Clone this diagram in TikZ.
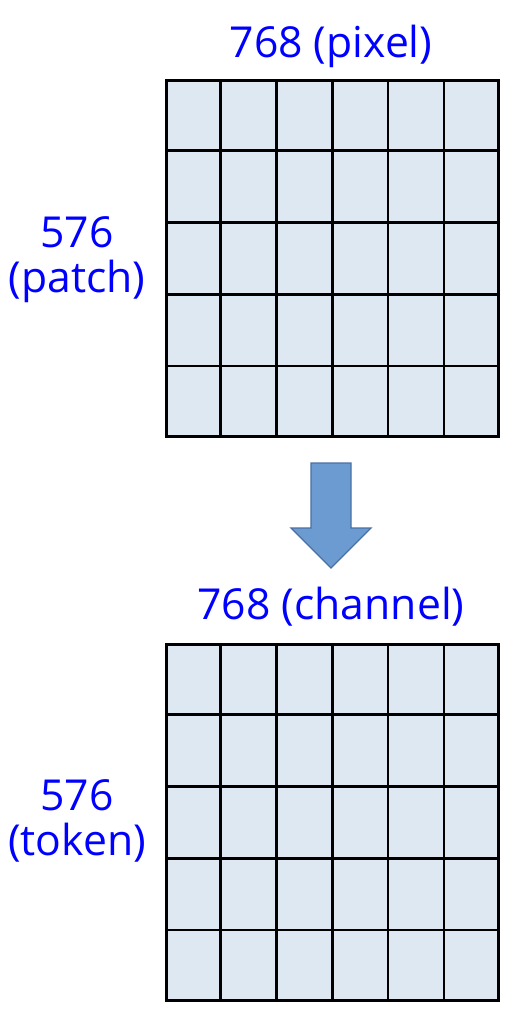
\documentclass[tikz,border=0pt]{standalone}
\usepackage{fontspec}
\setmainfont{Open Sans}
\usepackage{xcolor}
\usetikzlibrary{calc, positioning}
\definecolor{cellfill}{RGB}{222,232,242}
\definecolor{arrowfill}{RGB}{108,155,210}
\definecolor{arrowline}{RGB}{72,112,165}

\begin{document}
\begin{tikzpicture}[x=0.75pt, y=-0.75pt,
    gridbox/.style={draw=black, line width=2pt, fill=cellfill, inner sep=0pt,
        minimum width=249pt, minimum height=267pt, anchor=north west},
    dimlabel/.style={text=blue, font=\fontsize{32}{34}\selectfont, align=center}]
    \useasboundingbox (0,0) rectangle (528,1022);

    % 1. Two 5 x 6 grids
    \node[gridbox] (pix) at (165,79) {};
    \node[gridbox] (tok) at (165,643) {};
    \foreach \g in {pix,tok} {
        \foreach \i in {1,...,5}
            \draw[line width=2pt] ($(\g.north west)!\i/6!(\g.north east)$)
                -- ($(\g.south west)!\i/6!(\g.south east)$);
        \foreach \j in {1,...,4}
            \draw[line width=2pt] ($(\g.north west)!\j/5!(\g.south west)$)
                -- ($(\g.north east)!\j/5!(\g.south east)$);
    }

    % 2. Size labels
    \node[dimlabel, anchor=base] (pixw) at (331,57) {768 (pixel)};
    \node[dimlabel] (pixh) at (77,260) {576\\(patch)};
    \node[dimlabel, anchor=base] (tokw) at (331,619) {768 (channel)};
    \node[dimlabel] (tokh) at (77,821) {576\\(token)};

    % 3. Block arrow
    \draw[arrowline, fill=arrowfill, line width=1pt]
        (311,463) -- (351,463) -- (351,528) -- (371,528)
        -- (331,568) -- (291,528) -- (311,528) -- cycle;
\end{tikzpicture}
\end{document}
